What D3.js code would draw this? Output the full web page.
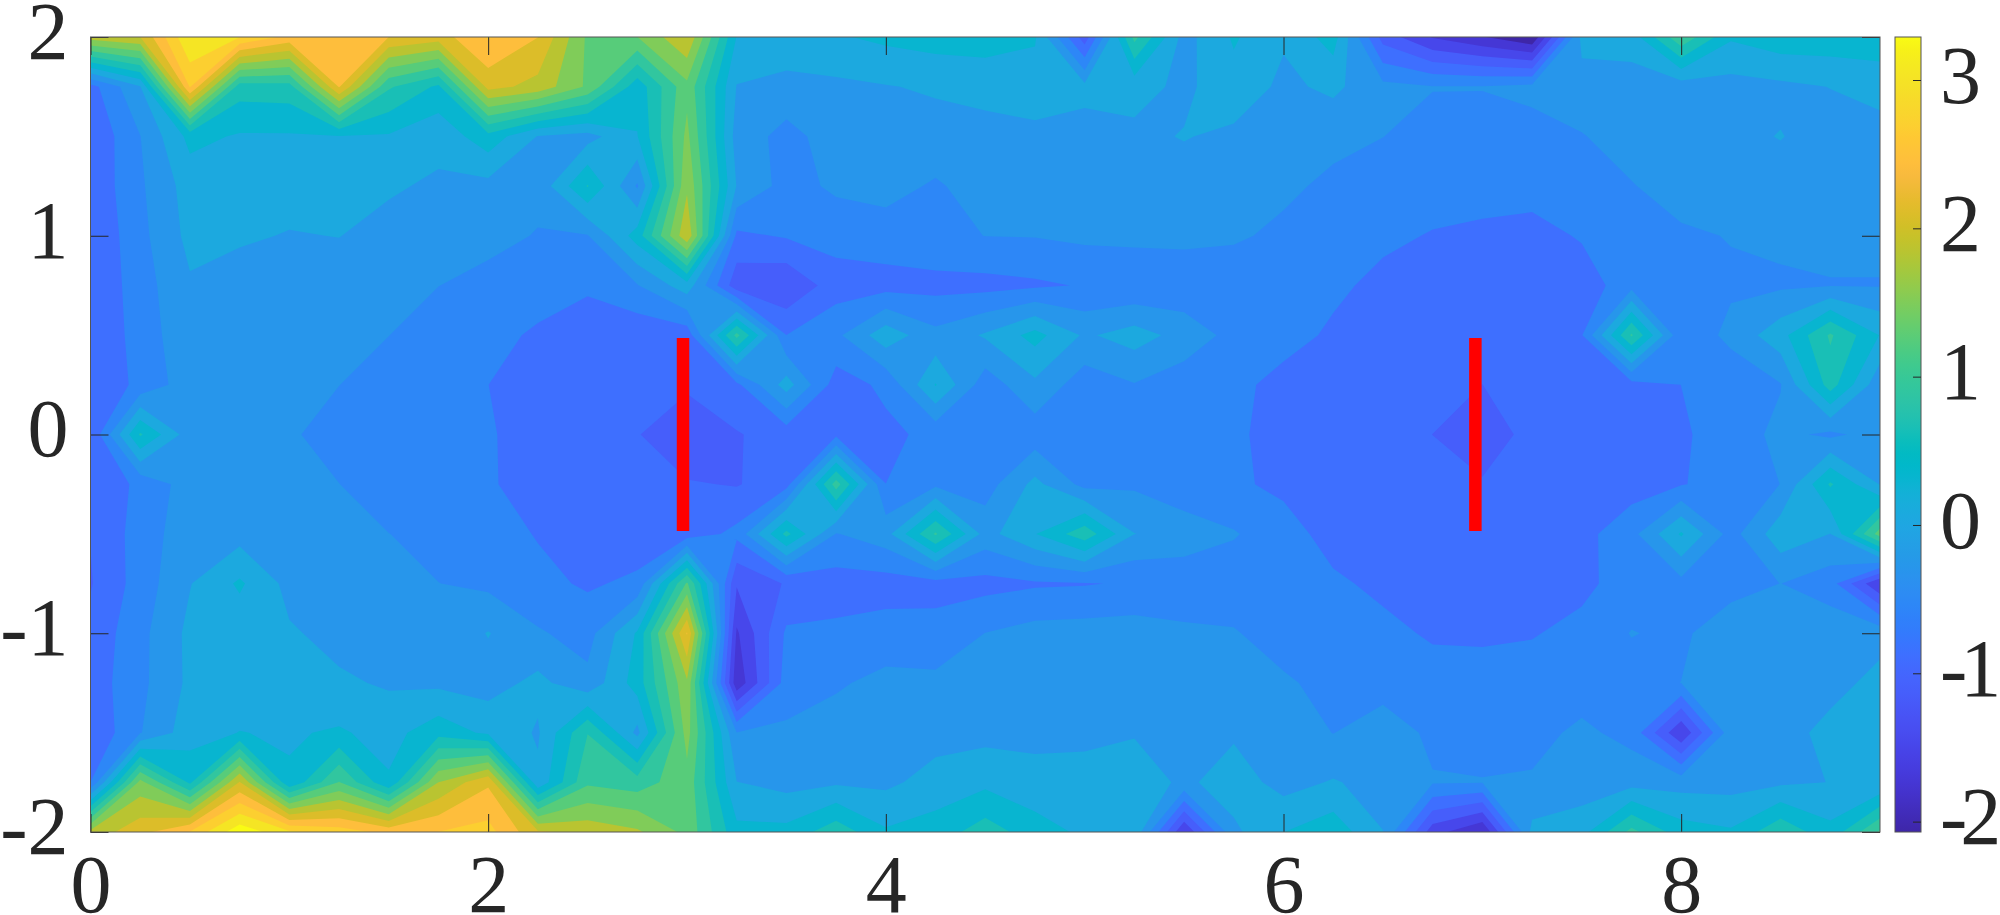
<!DOCTYPE html>
<html>
<head>
<meta charset="utf-8">
<script src="https://cdn.jsdelivr.net/npm/d3@7"></script>
<style>
  body { margin: 0; background: #fff; }
  text { font-family: "Liberation Serif", serif; fill: #262626; }
</style>
</head>
<body>
<svg id="chart" width="2000" height="915"></svg>
<script>
// grid axes
const xGrid = d3.range(37).map(i => i * 0.25);
const yGrid = d3.range(17).map(i => 2 - i * 0.25);

// field values, one list per y row
const zY200 = [1.95,2.1,3.28,3.0,2.6,2.55,2.4,2.25,2.72,2.4,1.45,1.5,2.08,.3,.25,.28,.38,.45,.45,.35,-1.05,1.0,-.1,.35,.05,.45,-1.0,-1.5,-1.75,-2.05,.1,.15,1.15,.35,.5,.5,.5];
const zY175 = [-.7,0,2.72,.75,.78,2.42,.95,.55,2.2,2.0,1.45,.42,1.42,0,-.1,-.05,0,.05,.12,.15,.1,.12,-.05,.2,-.05,.08,-.2,-.27,-.27,-.2,-.1,-.12,-.15,-.1,-.05,.02,.12];
const zY150 = [-.85,-.29,.4,.28,.28,.3,.28,.1,.5,0,-.1,.3,1.58,-.12,-.38,-.15,-.12,-.1,-.1,-.05,-.1,-.05,.03,-.05,-.1,-.2,-.28,-.4,-.42,-.4,-.3,-.15,-.1,-.05,.025,-.1,-.1];
const zY125 = [-.82,-.33,.15,.15,.12,.1,.05,-.03,-.08,-.2,.63,-.32,1.75,0,-.4,-.23,-.18,-.32,-.15,-.13,-.12,-.1,-.12,-.15,-.22,-.35,-.43,-.45,-.45,-.45,-.42,-.3,-.15,-.1,-.1,-.1,-.1];
const zY100 = [-.87,-.37,.1,.05,0,.02,-.08,-.15,-.2,-.3,-.3,.45,2.05,-.65,-.55,-.47,-.42,-.35,-.28,-.27,-.22,-.2,-.2,-.24,-.35,-.45,-.52,-.6,-.65,-.7,-.55,-.4,-.33,-.27,-.22,-.2,-.2];
const zY075 = [-.86,-.42,-.02,-.1,-.13,-.12,-.2,-.28,-.37,-.43,-.52,-.3,.18,-1.07,-1.15,-.72,-.7,-.68,-.68,-.63,-.56,-.55,-.5,-.48,-.45,-.52,-.66,-.72,-.75,-.75,-.75,-.4,-.48,-.33,-.33,-.3,-.3];
const zY050 = [-.87,-.45,-.07,-.1,-.15,-.2,-.28,-.45,-.48,-.63,-.8,-.8,-.76,1.0,-.58,-.35,.2,-.2,.05,.42,-.03,.15,-.1,-.38,-.47,-.63,-.72,-.78,-.8,-.78,-.6,.95,-.52,-.2,.2,.95,.3];
const zY025 = [-.85,-.5,-.12,-.15,-.2,-.28,-.42,-.5,-.58,-.7,-.85,-.85,-.82,-.65,.15,-.72,-.52,.33,-.45,-.05,-.45,-.3,-.45,-.5,-.68,-.72,-.78,-.8,-.88,-.78,-.75,-.7,-.58,-.5,-.3,.75,-.2];
const zY000 = [-.87,.65,-.15,-.2,-.24,-.42,-.48,-.52,-.55,-.72,-.78,-.86,-1.15,-.9,-.75,-.65,-.65,-.5,-.5,-.45,-.5,-.55,-.55,-.55,-.65,-.75,-.8,-.88,-1.05,-.78,-.72,-.68,-.62,-.45,-.2,-.35,-.15];
const zYm025 = [-.87,-.5,-.15,-.2,-.25,-.28,-.45,-.55,-.55,-.7,-.72,-.75,-.85,-.9,-.7,1.05,-.58,-.35,-.42,.1,-.38,-.33,-.5,-.53,-.65,-.75,-.78,-.8,-.85,-.8,-.78,-.72,-.6,-.45,-.28,.65,0];
const zYm050 = [-.87,-.45,-.1,-.1,-.15,-.2,-.28,-.38,-.45,-.6,-.72,-.75,-.75,-.5,.7,-.3,-.1,.95,-.1,.3,.8,.02,-.1,-.26,-.45,-.7,-.75,-.78,-.8,-.75,-.68,-.38,.35,-.4,.2,.01,1.35];
const zYm075 = [-.9,-.45,0,.36,-.08,-.15,-.2,-.28,-.35,-.5,-.62,-.52,1.25,-1.15,-.85,-.72,-.72,-.7,-.68,-.62,-.6,-.55,-.5,-.45,-.42,-.53,-.65,-.7,-.72,-.7,-.65,-.45,-.38,-.42,-.28,-.45,-1.47];
const zYm100 = [-.8,-.37,.09,.12,.05,-.08,-.15,-.22,.03,-.25,-.4,.35,2.42,-1.52,-.53,-.52,-.45,-.46,-.28,-.17,-.15,-.13,-.22,-.26,-.42,-.45,-.5,-.62,-.62,-.6,-.5,-.27,-.35,-.06,-.08,-.08,-.08];
const zYm125 = [-.75,-.36,.08,.1,.1,.06,-.02,-.05,-.12,.1,-.2,.45,1.75,-1.7,-.44,-.32,-.2,-.22,-.15,-.1,-.1,-.1,-.12,-.15,-.24,-.38,-.42,-.45,-.48,-.45,-.43,-.42,-.28,-.15,-.1,-.08,.1];
const zYm150 = [-.85,-.3,.18,.32,.28,.35,.2,.5,.25,-.02,.9,-.07,1.62,-.28,-.23,-.15,-.15,-.1,-.08,-.05,-.05,-.01,-.1,-.03,-.1,-.29,-.11,-.35,-.4,-.38,-.22,-.38,-1.45,-.1,-.1,.1,.15];
const zYm175 = [-.58,1.6,.55,2.12,.35,1.22,.35,1.8,2.35,.08,1.15,1.05,1.4,.02,-.09,-.03,-.05,.13,.24,.1,.12,.2,-.05,.17,-.1,.04,-.1,-.26,-.27,-.25,-.15,-.1,-.1,-.1,-.04,.02,.02];
const zYm200 = [1.9,2.3,2.72,3.5,3.05,2.85,2.6,2.7,2.8,2.15,2.0,1.85,1.42,.4,.4,.8,.35,.45,.76,.46,.25,.25,-1.47,-.05,.31,.5,.02,-1.35,-1.78,.1,.2,1.0,.45,.35,.85,.4,1.25];
const zRows = [zY200,zY175,zY150,zY125,zY100,zY075,zY050,zY025,zY000,zYm025,zYm050,zYm075,zYm100,zYm125,zYm150,zYm175,zYm200];

// plate positions drawn in red
const plateX = [2.98, 6.965];
const plateY = [-0.485, 0.485];

// colour limits and ticks
const zMin = -2.07;
const zMax = 3.29;
const nBands = 18;
const xTicks = [0, 2, 4, 6, 8];
const yTicks = [-2, -1, 0, 1, 2];
const cbTicks = [-2, -1, 0, 1, 2, 3];

// parula, 64 rows
const parula = ["#3e26a8","#402ab4","#422ebf","#4432cb","#4537d5","#463cde","#4741e5","#4747eb","#484df0","#4852f4","#4758f8","#465efb","#4563fd","#4269fe","#3e6fff","#3875fe","#327cfc","#2f81fa","#2d87f7","#2d8cf3","#2b91ef","#2796eb","#259be7","#23a0e5","#20a5e3","#1ca9df","#18addb","#12b1d6","#08b5d0","#01b8ca","#02bac3","#0bbdbc","#19bfb6","#24c1ae","#2cc3a7","#31c69f","#37c897","#3fca8e","#4acb84","#57cc7a","#64cd6f","#72cd64","#80cc59","#8fcb4e","#9dc943","#abc739","#b9c431","#c5c22a","#d1bf27","#dcbd29","#e6bb2d","#efba36","#f8ba3d","#febe3c","#fec338","#fec833","#fccf30","#f9d52d","#f7da2a","#f5e027","#f5e524","#f5eb1f","#f7f118","#f9fb14"];

const plot = {left: 90.5, right: 1880, top: 37, bottom: 832};
const cbar = {left: 1895, right: 1921};

const svg = d3.select('#chart');

const xScale = d3.scaleLinear().domain([0, 9]).range([plot.left, plot.right]);
const yScale = d3.scaleLinear().domain([-2, 2]).range([plot.bottom, plot.top]);
const cScale = d3.scaleLinear().domain([zMin, zMax]).range([plot.bottom, plot.top]);

const colorOf = t => parula[Math.round(t * 63)];

// contour levels, evenly spaced between the colour limits
const levels = d3.range(nBands + 1).map(i => zMin + i * (zMax - zMin) / nBands);

const defs = svg.append('defs');
defs.append('clipPath').attr('id', 'plot-clip')
  .append('rect')
    .attr('x', plot.left).attr('y', plot.top)
    .attr('width', plot.right - plot.left).attr('height', plot.bottom - plot.top);

// d3.contours puts value i at coordinate i + 0.5
const gridStep = xGrid[1] - xGrid[0];
const gridProjection = d3.geoTransform({
  point(cx, cy) {
    this.stream.point(xScale((cx - 0.5) * gridStep), yScale(yGrid[0] - (cy - 0.5) * gridStep));
  }
});
const path = d3.geoPath(gridProjection);

const contours = d3.contours()
    .size([xGrid.length, yGrid.length])
    .smooth(true)
    .thresholds(levels)(zRows.flat());

// d3.contours always keeps the high corners of a saddle cell apart. When the
// cell mean is above the level they should join, so add the quad between them.
const saddleBridges = level => {
  const p = d3.path();
  const frac = (a, b) => (level - a) / (b - a);
  for (let r = 0; r < yGrid.length - 1; r++) {
    for (let c = 0; c < xGrid.length - 1; c++) {
      const a = zRows[r][c], b = zRows[r][c + 1], d = zRows[r + 1][c], e = zRows[r + 1][c + 1];
      const isSaddle = (a >= level && e >= level && b < level && d < level)
                    || (b >= level && d >= level && a < level && e < level);
      if (!isSaddle || (a + b + d + e) / 4 < level) continue;
      const x0 = xGrid[c], y0 = yGrid[r], y1 = yGrid[r + 1];
      p.moveTo(xScale(x0 + frac(a, b) * gridStep), yScale(y0));
      p.lineTo(xScale(x0 + gridStep), yScale(y0 - frac(b, e) * gridStep));
      p.lineTo(xScale(x0 + frac(d, e) * gridStep), yScale(y1));
      p.lineTo(xScale(x0), yScale(y0 - frac(a, d) * gridStep));
      p.closePath();
    }
  }
  return p.toString();
};

const marks = svg.append('g').attr('clip-path', 'url(#plot-clip)');

marks.append('rect')
    .attr('x', plot.left).attr('y', plot.top)
    .attr('width', plot.right - plot.left).attr('height', plot.bottom - plot.top)
    .attr('fill', parula[0]);

marks.selectAll('.band')
    .data(contours)
  .join('path')
    .attr('class', 'band')
    .attr('d', d => (path(d) || '') + saddleBridges(d.value))
    .attr('fill', (d, i) => colorOf(i / nBands));

// red plates
marks.selectAll('.plate')
    .data(plateX)
  .join('line')
    .attr('class', 'plate')
    .attr('x1', d => xScale(d)).attr('x2', d => xScale(d))
    .attr('y1', yScale(plateY[1])).attr('y2', yScale(plateY[0]))
    .attr('stroke', '#ff0000')
    .attr('stroke-width', 12.5);

// axes, ticks point inwards on all four sides
const tickLen = 18;
const styleAxis = g => {
  g.select('.domain').remove();
  g.selectAll('.tick line').attr('stroke', '#262626').attr('stroke-width', 1);
  g.selectAll('.tick text').attr('fill', '#262626').style('font-size', '82px');
};

svg.append('g')
    .attr('transform', `translate(0,${plot.bottom})`)
    .call(d3.axisBottom(xScale).tickValues(xTicks).tickSize(-tickLen).tickPadding(22).tickFormat(d3.format('d')))
    .call(styleAxis);

svg.append('g')
    .attr('transform', `translate(0,${plot.top})`)
    .call(d3.axisTop(xScale).tickValues(xTicks).tickSize(-tickLen).tickFormat(''))
    .call(styleAxis);

const dashFormat = d => String(d);

svg.append('g')
    .attr('transform', `translate(${plot.left},0)`)
    .call(d3.axisLeft(yScale).tickValues(yTicks).tickSize(-tickLen).tickPadding(22).tickFormat(dashFormat))
    .call(styleAxis)
    .call(g => g.selectAll('.tick text').attr('dy', '0.26em'));

svg.append('g')
    .attr('transform', `translate(${plot.right},0)`)
    .call(d3.axisRight(yScale).tickValues(yTicks).tickSize(-tickLen).tickFormat(''))
    .call(styleAxis);

svg.append('rect')
    .attr('x', plot.left).attr('y', plot.top)
    .attr('width', plot.right - plot.left).attr('height', plot.bottom - plot.top)
    .attr('fill', 'none')
    .attr('stroke', '#555')
    .attr('stroke-width', 1);

// colorbar
const grad = defs.append('linearGradient')
    .attr('id', 'cbar-grad')
    .attr('x1', 0).attr('y1', 1).attr('x2', 0).attr('y2', 0);
grad.selectAll('stop')
    .data(parula)
  .join('stop')
    .attr('offset', (d, i) => i / (parula.length - 1))
    .attr('stop-color', d => d);

svg.append('rect')
    .attr('x', cbar.left).attr('y', plot.top)
    .attr('width', cbar.right - cbar.left).attr('height', plot.bottom - plot.top)
    .attr('fill', 'url(#cbar-grad)')
    .attr('stroke', '#555')
    .attr('stroke-width', 1);

svg.append('g')
    .attr('transform', `translate(${cbar.right},0)`)
    .call(d3.axisRight(cScale).tickValues(cbTicks).tickSize(-8).tickPadding(19).tickFormat(dashFormat))
    .call(styleAxis)
    .call(g => g.selectAll('.tick text')
        .attr('dy', '0.27em')
        // negative labels have to fit before the page edge
        .style('letter-spacing', d => d < 0 ? '-7px' : null));
</script>
</body>
</html>
